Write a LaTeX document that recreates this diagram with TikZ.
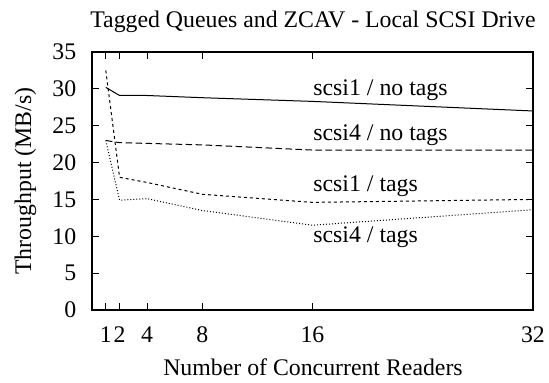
\documentclass[tikz,border=0pt]{standalone}
\usepackage{fontspec}
\setmainfont{Liberation Serif}
\tikzset{
  frameline/.style={line width=0.6pt},
  curvelabel/.style={anchor=base west, inner sep=0pt}
}
\begin{document}
\begin{tikzpicture}[x=0.5pt,y=-0.5pt,font=\fontsize{11.9}{14}\selectfont]
\useasboundingbox (0,0) rectangle (549,383);
%axes box: 0..32 readers, 0..35 MB/s
\newcommand{\xmax}{32}
\newcommand{\ymax}{35}
\newcommand{\tlen}{3.5pt}
\node [anchor=base] (title) at (313,28) {Tagged Queues and ZCAV - Local SCSI Drive};
\node [anchor=base] (xlabel) at (313,375) {Number of Concurrent Readers};
\node [anchor=base, rotate=90] (ylabel) at (31,181) {Throughput (MB/s)};
\begin{scope}[shift={(92,310)}, x=6.89pt, y=3.6855pt]
\draw [frameline] (0,0) rectangle (\xmax,\ymax);
\foreach \y in {0,5,...,35} {
  \draw [frameline] (0,\y) -- ++(\tlen,0pt);
  \draw [frameline] (\xmax,\y) -- ++(-\tlen,0pt);
  \node [anchor=east, inner sep=0pt] (ytick\y) at ([xshift=-7.7pt]0,\y) {\y};
}
\foreach \x in {1,2,4,8,16,32} {
  \draw [frameline] (\x,0) -- ++(0pt,\tlen);
  \draw [frameline] (\x,\ymax) -- ++(0pt,-\tlen);
  \node [anchor=base, inner sep=0pt] (xtick\x) at ([yshift=-16.5pt]\x,0) {\x};
}
\draw [line width=0.5pt] (1,30.2) -- (2,29.1) -- (4,29.1) -- (8,28.8) -- (16,28.3) -- (32,27.0);
\draw [line width=0.5pt, dash pattern=on 3.3pt off 1.7pt] (1,23.0) -- (2,22.7) -- (4,22.6) -- (8,22.4) -- (16,21.7) -- (32,21.7);
\draw [line width=0.5pt, dash pattern=on 1.5pt off 1.5pt] (1,32.5) -- (2,18.0) -- (4,17.3) -- (8,15.7) -- (16,14.6) -- (32,15.0);
\draw [line width=0.5pt, dash pattern=on 0.5pt off 1pt] (1,23.0) -- (2,14.9) -- (4,15.1) -- (8,13.5) -- (16,11.5) -- (32,13.6);
\end{scope}
\node [curvelabel] (s1nt) at (313,96) {scsi1 / no tags};
\node [curvelabel] (s4nt) at (313,141) {scsi4 / no tags};
\node [curvelabel] (s1t) at (313,191.5) {scsi1 / tags};
\node [curvelabel] (s4t) at (313,243) {scsi4 / tags};
\end{tikzpicture}
\end{document}
